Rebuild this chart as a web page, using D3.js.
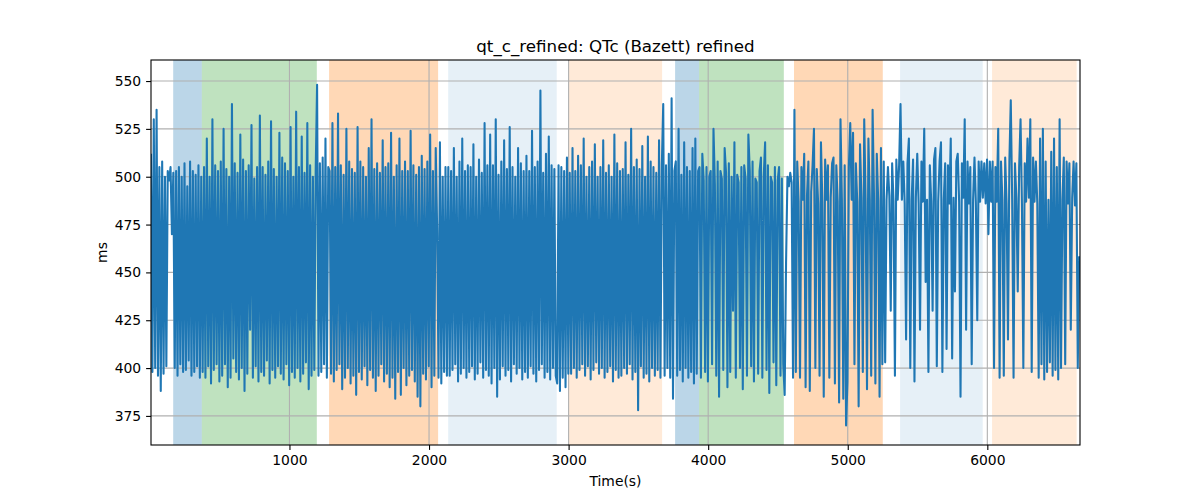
<!DOCTYPE html>
<html>
<head>
<meta charset="utf-8">
<script src="https://cdn.jsdelivr.net/npm/d3@7"></script>
<style>
  html, body { margin: 0; padding: 0; background: #fff; }
  svg { display: block; font-family: "DejaVu Sans", sans-serif; }
</style>
</head>
<body>
<svg id="chart" width="1200" height="500"></svg>
<script>
// ---- data ----
const title = "qt_c_refined: QTc (Bazett) refined";
const xLabel = "Time(s)";
const yLabel = "ms";
const xTicks = [1000, 2000, 3000, 4000, 5000, 6000];
const yTicks = [375, 400, 425, 450, 475, 500, 525, 550];
const xDomain = [8, 6664];
const yDomain = [359.8, 561];
const startTime = 8;      // s
const sampleStep = 10;    // s between plotted samples

// shaded phases
const bandStart = [167, 372, 1284, 2137, 3001, 3763, 3935, 4615, 5375, 6034];
const bandEnd   = [372, 1196, 2065, 2915, 3670, 3935, 4542, 5251, 5967, 6640];
const bandColor = ["#1f77b4", "#2ca02c", "#ff7f0e", "#1f77b4", "#ff7f0e", "#1f77b4", "#2ca02c", "#ff7f0e", "#1f77b4", "#ff7f0e"];
const bandAlpha = [0.3, 0.3, 0.3, 0.11, 0.16, 0.3, 0.3, 0.3, 0.11, 0.16];

// QTc values (ms), one per sample
const qtc = [
  // A
  512, 398, 530, 400, 535, 396, 505, 388, 508, 397, 500, 401, 503, 498, 505, 470, 502,
  // B
  400, 503, 396, 505, 402, 500, 398, 507, 399, 495,
  404, 508, 396, 503, 398, 501, 401, 506, 395, 500,
  // C
  398, 505, 395, 520, 401, 500, 392, 530, 399, 506,
  402, 503, 393, 508, 396, 525, 402, 504, 390, 500,
  395, 538, 405, 507, 398, 502, 394, 522, 400, 509,
  388, 503, 397, 506, 420, 527, 395, 499, 401, 505,
  393, 532, 398, 505, 396, 501, 404, 508, 392, 529,
  399, 504, 395, 500, 401, 523, 397, 510, 394, 507,
  402, 503, 391, 526, 398, 500, 395, 534, 400, 505,
  393, 521, 397, 502, 403, 528, 389, 506, 396, 500,
  399, 503,
  // D
  548, 396, 507, 398, 510, 402, 520, 395, 505,
  // E
  503, 397, 528, 393, 505, 399, 533, 402, 506, 389,
  501, 395, 525, 400, 508, 392, 504, 396, 502, 386,
  526, 398, 508, 394, 505, 401, 500, 391, 515, 399,
  530, 395, 504, 388, 507, 396, 502, 402, 519, 393,
  505, 397, 507, 390, 523, 395, 500, 384, 506, 398,
  520, 386, 503, 400, 508, 391, 503, 396, 524, 399,
  506, 393, 501, 385, 505, 380, 511, 397, 504, 394,
  508, 401, 522, 390, 503, 396, 515, 473,
  // F
  395, 518, 392, 500, 398, 505, 396,
  // G
  505, 396, 503, 399, 515, 402, 500, 393, 508, 397,
  520, 400, 503, 395, 506, 398, 505, 401, 517, 394,
  500, 397, 509, 403, 502, 395, 528, 399, 506, 396,
  522, 392, 506, 400, 530, 385, 501, 394, 508, 401,
  519, 396, 504, 399, 526, 393, 505, 402, 500, 397,
  515, 400, 507, 394, 503, 398, 511, 395, 503, 401,
  524, 397, 505, 393, 508, 399, 545, 402, 502, 395,
  512, 398, 521, 394, 506, 400, 504, 396,
  // H
  392, 506, 388, 505, 395, 503, 390, 510, 397,
  // I
  502, 397, 515, 400, 503, 395, 511, 399, 506, 402,
  520, 396, 500, 401, 505, 394, 508, 399, 517, 403,
  500, 397, 505, 400, 519, 395, 502, 398, 506, 401,
  500, 393, 522, 399, 507, 395, 503, 396, 504, 400,
  518, 397, 501, 402, 525, 394, 505, 398, 509, 378,
  504, 401, 516, 395, 500, 397, 521, 393, 508, 400,
  505, 396, 502, 399, 519, 395, 506,
  // J
  538, 396, 506, 400, 512, 395, 541, 384, 503,
  // K
  508, 396, 525, 399, 501, 393, 518, 400, 505, 395,
  503, 398, 515, 392, 520, 397, 503,
  // L
  505, 395, 512, 498, 398, 505, 393, 500, 503, 402,
  525, 496, 396, 508, 385, 503, 499, 399, 515, 502,
  390, 507, 398, 500, 430, 518, 395, 501, 497, 400,
  505, 389, 506, 499, 396, 522, 503, 401, 508, 393,
  499, 497, 397, 503, 510, 395, 500, 518, 399, 506,
  387, 500, 497, 403, 505, 391, 498, 505, 396, 499,
  402,
  // M
  386, 455, 500, 495, 502, 497, 395,
  // N
  535, 398, 508, 487, 395, 505, 488, 512, 390, 490,
  508, 388, 492, 506, 525, 400, 504, 486, 396, 518,
  487, 385, 509, 488, 506, 395, 489, 507, 510, 392,
  506, 487, 382, 530, 488, 384, 506, 370, 393, 505,
  528, 488, 523, 402, 507, 487, 380, 517, 489, 398,
  530, 487, 389, 520, 488, 396, 535, 490, 392, 512,
  488, 385, 515, 402,
  // O
  508, 403, 488, 505, 490, 430, 507, 487, 396, 509, 488, 506,
  // P
  538, 488, 508, 486, 415, 507, 520, 400, 488, 509,
  393, 489, 512, 486, 420, 508, 487, 525, 445, 488,
  398, 506, 487, 430, 509, 515, 401, 487, 508, 518,
  398, 488, 507, 410, 506, 486, 520, 405, 489, 440,
  508, 512, 487, 385, 507, 489, 530, 420, 508, 486,
  505, 402, 488, 510, 486, 425, 508, 487, 508,
  // Q
  489, 507, 486, 509, 470, 508, 487,
  // R
  508, 400, 505, 487, 525, 395, 508, 488, 396, 510,
  486, 415, 508, 540, 488, 395, 507, 489, 440, 505,
  530, 486, 400, 507, 487, 520, 489, 530, 398, 510,
  487, 508, 486, 395, 520, 402, 525, 394, 508, 398,
  488, 403, 513, 396, 520, 399, 505, 394, 530, 400,
  488, 510, 402, 508, 486, 507, 420, 489, 508, 485,
  507,
  // S
  400, 458, 452
];

// ---- layout ----
const W = 1200, H = 500;
const margin = { left: 151, right: 120, top: 60, bottom: 55 };
const iw = W - margin.left - margin.right;
const ih = H - margin.top - margin.bottom;

const svg = d3.select("#chart");
const g = svg.append("g").attr("transform", `translate(${margin.left},${margin.top})`);

const x = d3.scaleLinear().domain(xDomain).range([0, iw]);
const y = d3.scaleLinear().domain(yDomain).range([ih, 0]);

svg.append("defs").append("clipPath").attr("id", "clip")
  .append("rect").attr("width", iw).attr("height", ih);

// bands
const bands = bandStart.map((s, i) => ({ s, e: bandEnd[i], c: bandColor[i], a: bandAlpha[i] }));
g.append("g").attr("clip-path", "url(#clip)")
  .selectAll("rect").data(bands).join("rect")
  .attr("x", d => x(d.s))
  .attr("width", d => x(d.e) - x(d.s))
  .attr("y", 0).attr("height", ih)
  .attr("fill", d => d.c).attr("fill-opacity", d => d.a);

// grid
g.append("g").selectAll("line.gx").data(xTicks).join("line")
  .attr("x1", d => x(d)).attr("x2", d => x(d)).attr("y1", 0).attr("y2", ih)
  .attr("stroke", "#b0b0b0").attr("stroke-width", 1.1);
g.append("g").selectAll("line.gy").data(yTicks).join("line")
  .attr("y1", d => y(d)).attr("y2", d => y(d)).attr("x1", 0).attr("x2", iw)
  .attr("stroke", "#b0b0b0").attr("stroke-width", 1.1);

// line
const pts = qtc.map((v, i) => ({ t: startTime + i * sampleStep, v }));
const line = d3.line().x(d => x(d.t)).y(d => y(d.v));
g.append("path").attr("clip-path", "url(#clip)")
  .datum(pts).attr("d", line)
  .attr("fill", "none").attr("stroke", "#1f77b4")
  .attr("stroke-width", 2.08).attr("stroke-linejoin", "round");

// axes
const xAxis = d3.axisBottom(x).tickValues(xTicks).tickSize(4.9).tickPadding(4.9).tickFormat(d3.format("d"));
const yAxis = d3.axisLeft(y).tickValues(yTicks).tickSize(4.9).tickPadding(4.9).tickFormat(d3.format("d"));
const gx = g.append("g").attr("transform", `translate(0,${ih})`).call(xAxis);
const gy = g.append("g").call(yAxis);
[gx, gy].forEach(a => {
  a.select(".domain").remove();
  a.selectAll("line").attr("stroke", "#000").attr("stroke-width", 1.1);
  a.selectAll("text").attr("fill", "#000").style("font-size", "13.9px").style("font-family", "DejaVu Sans");
});

// frame
g.append("rect").attr("width", iw).attr("height", ih)
  .attr("fill", "none").attr("stroke", "#000").attr("stroke-width", 1.1);

// labels
svg.append("text").attr("x", margin.left + iw / 2).attr("y", 52)
  .attr("text-anchor", "middle").style("font-size", "16.7px").text(title);
svg.append("text").attr("x", margin.left + iw / 2).attr("y", 486)
  .attr("text-anchor", "middle").style("font-size", "13.9px").text(xLabel);
svg.append("text").attr("transform", `translate(107,${margin.top + ih / 2}) rotate(-90)`)
  .attr("text-anchor", "middle").style("font-size", "13.9px").text(yLabel);
</script>
</body>
</html>
